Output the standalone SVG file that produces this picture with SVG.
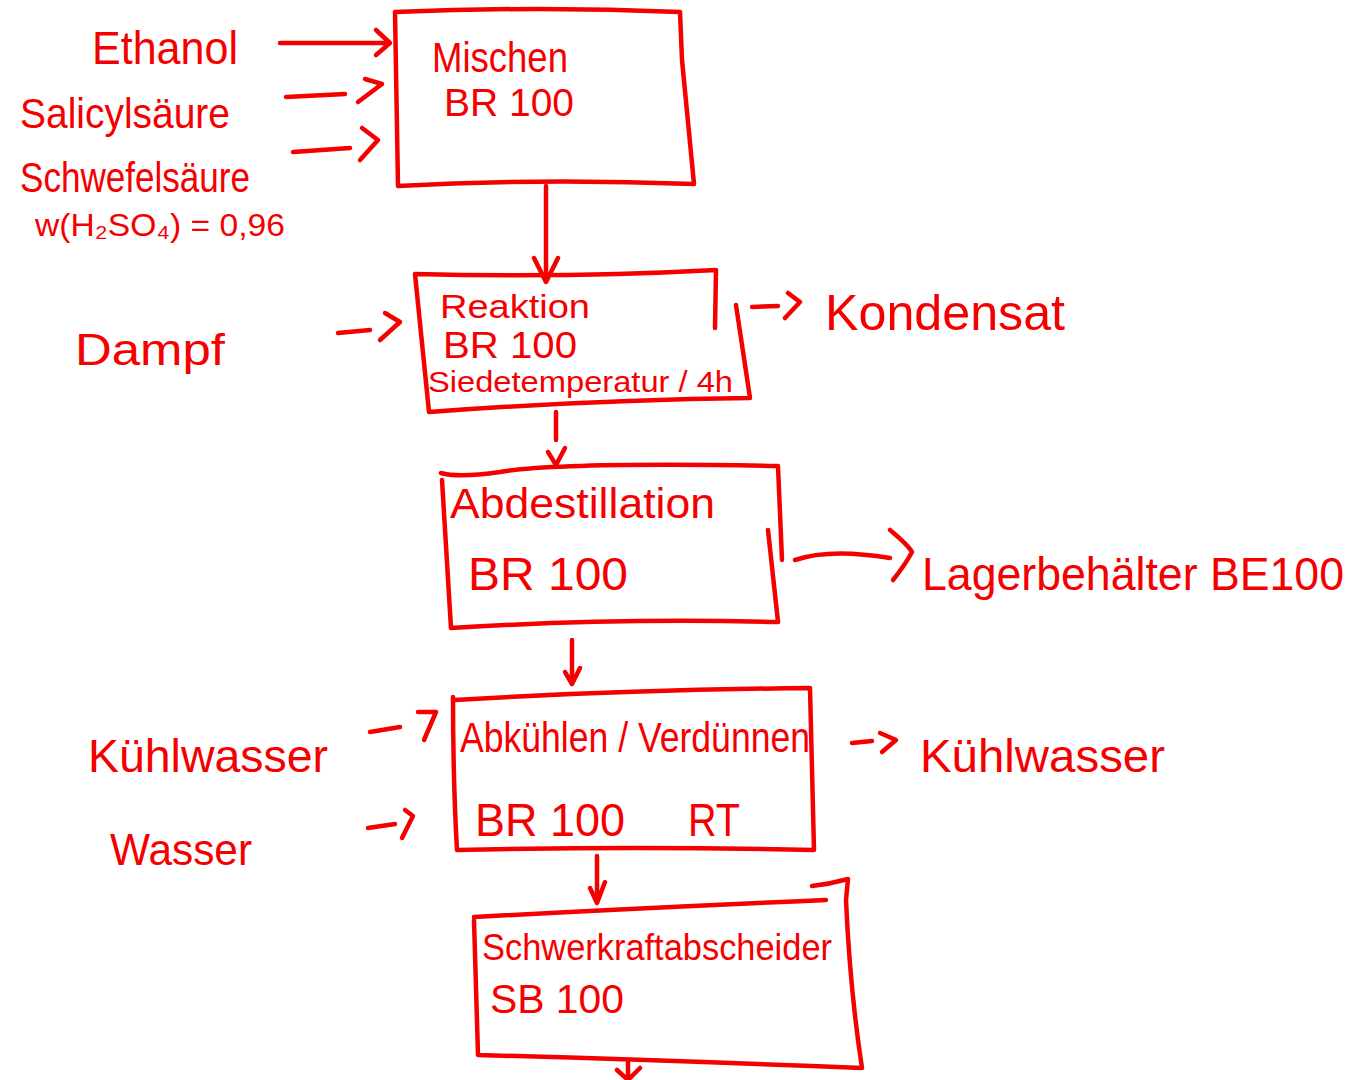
<svg xmlns="http://www.w3.org/2000/svg" width="1367" height="1080" viewBox="0 0 1367 1080">
<style>
.s{fill:none;stroke:#f40000;stroke-width:4.5;stroke-linecap:round;stroke-linejoin:round}
.t{fill:#f40000;font-family:"Liberation Sans",Arial,sans-serif}
</style>
<rect width="1367" height="1080" fill="#ffffff"/>
<g id="inputs">
<text class="t" x="92" y="64" font-size="46" textLength="146" lengthAdjust="spacingAndGlyphs">Ethanol</text>
<text class="t" x="20" y="128" font-size="42" textLength="210" lengthAdjust="spacingAndGlyphs">Salicylsäure</text>
<text class="t" x="20" y="192" font-size="42" textLength="230" lengthAdjust="spacingAndGlyphs">Schwefelsäure</text>
<text class="t" x="35" y="236" font-size="32" textLength="250" lengthAdjust="spacingAndGlyphs">w(H₂SO₄) = 0,96</text>
<text class="t" x="75" y="365" font-size="44" textLength="150" lengthAdjust="spacingAndGlyphs">Dampf</text>
<text class="t" x="88" y="772" font-size="46" textLength="240" lengthAdjust="spacingAndGlyphs">Kühlwasser</text>
<text class="t" x="110" y="865" font-size="44" textLength="142" lengthAdjust="spacingAndGlyphs">Wasser</text>
</g>
<g id="outputs">
<text class="t" x="825" y="330" font-size="50" textLength="240" lengthAdjust="spacingAndGlyphs">Kondensat</text>
<text class="t" x="922" y="590" font-size="46" textLength="422" lengthAdjust="spacingAndGlyphs">Lagerbehälter BE100</text>
<text class="t" x="920" y="772" font-size="46" textLength="245" lengthAdjust="spacingAndGlyphs">Kühlwasser</text>
</g>
<g id="node-mischen">
<path class="s" d="M395,12 Q540,6 680,12 L682,60 L694,184 Q540,178 398,186 Z"/>
<text class="t" x="432" y="72" font-size="42" textLength="136" lengthAdjust="spacingAndGlyphs">Mischen</text>
<text class="t" x="444" y="116" font-size="38" textLength="130" lengthAdjust="spacingAndGlyphs">BR 100</text>
</g>
<g id="node-reaktion">
<path class="s" d="M715,328 L716,270 Q570,278 415,274 L429,412 Q590,400 750,398 L736,305"/>
<text class="t" x="440" y="318" font-size="34" textLength="150" lengthAdjust="spacingAndGlyphs">Reaktion</text>
<text class="t" x="443" y="358" font-size="36" textLength="134" lengthAdjust="spacingAndGlyphs">BR 100</text>
<text class="t" x="428" y="392" font-size="30" textLength="305" lengthAdjust="spacingAndGlyphs">Siedetemperatur / 4h</text>
</g>
<g id="node-abdestillation">
<path class="s" d="M441,473 Q458,478 500,472 Q560,462 778,466 L782,560 M768,530 L778,622 Q610,618 451,628 L442,480"/>
<text class="t" x="450" y="518" font-size="42" textLength="265" lengthAdjust="spacingAndGlyphs">Abdestillation</text>
<text class="t" x="468" y="590" font-size="46" textLength="160" lengthAdjust="spacingAndGlyphs">BR 100</text>
</g>
<g id="node-abkuehlen">
<path class="s" d="M455,700 Q620,690 810,688 L814,850 Q640,846 457,850 Q453,780 453,697"/>
<text class="t" x="460" y="752" font-size="42" textLength="350" lengthAdjust="spacingAndGlyphs">Abkühlen / Verdünnen</text>
<text class="t" x="475" y="836" font-size="46" textLength="150" lengthAdjust="spacingAndGlyphs">BR 100</text>
<text class="t" x="688" y="836" font-size="46" textLength="52" lengthAdjust="spacingAndGlyphs">RT</text>
</g>
<g id="node-schwerkraft">
<path class="s" d="M474,917 Q640,908 826,900 M812,886 Q830,884 848,879 L846,900 Q850,990 862,1068 Q660,1060 478,1055 L474,920"/>
<text class="t" x="482" y="960" font-size="36" textLength="350" lengthAdjust="spacingAndGlyphs">Schwerkraftabscheider</text>
<text class="t" x="490" y="1013" font-size="40" textLength="134" lengthAdjust="spacingAndGlyphs">SB 100</text>
</g>
<g id="connectors">
<path class="s" d="M280,43 L388,43 M376,30 L390,43 L376,55"/>
<path class="s" d="M286,97 L345,94 M365,79 L382,84 L358,102"/>
<path class="s" d="M293,152 L350,148 M362,128 L378,140 L360,160"/>
<path class="s" d="M546,186 L546,280 M534,258 L546,282 L558,258"/>
<path class="s" d="M338,333 L370,330 M385,313 L400,322 L380,340"/>
<path class="s" d="M752,307 L778,306 M788,293 L800,302 L785,318"/>
<path class="s" d="M556,412 L556,440 M548,452 L556,465 L565,448"/>
<path class="s" d="M795,560 Q830,548 890,558 M890,530 Q908,545 912,552 Q905,565 893,580"/>
<path class="s" d="M572,640 L572,680 M565,672 L572,684 L580,668"/>
<path class="s" d="M370,732 L400,727 M418,712 L436,712 L424,740"/>
<path class="s" d="M368,828 L395,824 M405,810 L413,816 L402,838"/>
<path class="s" d="M852,743 L872,741 M880,733 L896,740 L882,752"/>
<path class="s" d="M597,856 L597,895 M590,888 L597,903 L605,882"/>
<path class="s" d="M628,1060 L628,1080 M617,1070 L628,1080 L640,1068"/>
</g>
</svg>
